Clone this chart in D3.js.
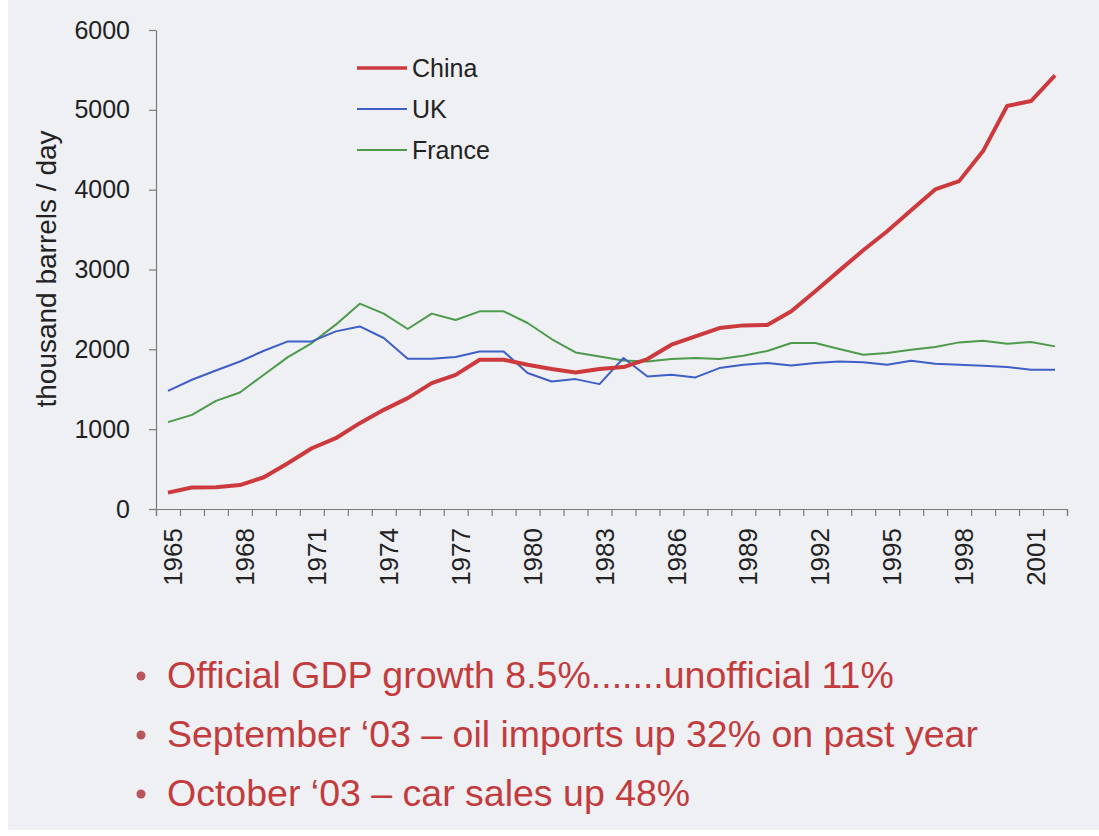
<!DOCTYPE html>
<html>
<head>
<meta charset="utf-8">
<script src="https://cdn.jsdelivr.net/npm/d3@7"></script>
<style>
  html, body { margin: 0; padding: 0; background: #ffffff; }
  svg { display: block; }
</style>
</head>
<body>
<svg id="chart" width="1099" height="836"></svg>
<script>
// Oil consumption, thousand barrels per day, 1965–2002
const years = d3.range(1965, 2003);
const china = [205, 270, 272, 300, 398, 573, 761, 887, 1075, 1242, 1389, 1577, 1680, 1870, 1870,
  1807, 1753, 1710, 1753, 1778, 1878, 2058, 2162, 2267, 2300, 2305, 2476, 2727, 2986, 3241,
  3479, 3743, 4003, 4107, 4483, 5048, 5110, 5433];
const uk = [1480, 1619, 1735, 1848, 1982, 2099, 2099, 2225, 2287, 2142, 1882, 1882, 1903, 1974, 1974,
  1703, 1597, 1627, 1564, 1891, 1660, 1681, 1648, 1765, 1807, 1828, 1798, 1828, 1848, 1838,
  1807, 1857, 1818, 1807, 1794, 1778, 1744, 1744];
const france = [1088, 1179, 1355, 1460, 1681, 1903, 2079, 2309, 2572, 2447, 2255, 2447, 2367, 2476, 2476,
  2330, 2129, 1961, 1911, 1861, 1848, 1878, 1891, 1878, 1920, 1980, 2079, 2079, 2004, 1932,
  1953, 1995, 2029, 2087, 2108, 2070, 2092, 2037];
const seriesNames = ["China", "UK", "France"];
const yTicks = [0, 1000, 2000, 3000, 4000, 5000, 6000];
const xLabelYears = d3.range(1965, 2002, 3);
const bullets = [
  "Official GDP growth 8.5%.......unofficial 11%",
  "September \u201803 \u2013 oil imports up 32% on past year",
  "October \u201803 \u2013 car sales up 48%"
];

const series = [
  { name: seriesNames[0], values: china, color: "#cc3a3e", width: 4 },
  { name: seriesNames[1], values: uk, color: "#3f5fc6", width: 2 },
  { name: seriesNames[2], values: france, color: "#4e9a4c", width: 2 }
];

const svg = d3.select("#chart");
const font = "'Liberation Sans', Arial, sans-serif";

// page background
svg.append("rect").attr("x", 8).attr("y", 0).attr("width", 1091).attr("height", 830).attr("fill", "#eff0f4");

const plotLeft = 156, plotRight = 1067, plotTop = 30, plotBottom = 509;

const x = d3.scaleBand().domain(years).range([plotLeft, plotRight]).paddingInner(0).paddingOuter(0);
const xEdge = d3.scaleLinear().domain([1964.5, 2002.5]).range([plotLeft, plotRight]);
const y = d3.scaleLinear().domain([0, 6000]).range([plotBottom, plotTop]);

// y axis
const yAxis = svg.append("g")
  .attr("transform", `translate(${plotLeft},0)`)
  .call(d3.axisLeft(y).tickValues(yTicks).tickFormat(d3.format("d"))
    .tickSize(7).tickPadding(19).tickSizeOuter(0));
yAxis.select(".domain").attr("stroke", "#7a7a7a").attr("stroke-width", 1.2);
yAxis.selectAll(".tick line").attr("stroke", "#7a7a7a").attr("stroke-width", 1.2);
yAxis.selectAll("text").attr("font-family", font).attr("font-size", 25).attr("fill", "#222");

// x axis: tick marks at category boundaries
const xAxis = svg.append("g")
  .attr("transform", `translate(0,${plotBottom})`)
  .call(d3.axisBottom(xEdge).tickValues(d3.range(1964.5, 2003, 1)).tickSize(7).tickFormat(""));
xAxis.select(".domain").attr("stroke", "#7a7a7a").attr("stroke-width", 1.2);
xAxis.selectAll(".tick line").attr("stroke", "#7a7a7a").attr("stroke-width", 1.2);

// x axis labels, rotated, every third year
const xLab = svg.append("g")
  .attr("transform", `translate(0,${plotBottom})`)
  .call(d3.axisBottom(x).tickValues(xLabelYears).tickSize(0).tickPadding(0));
xLab.select(".domain").remove();
xLab.selectAll("text")
  .attr("font-family", font).attr("font-size", 26).attr("fill", "#222")
  .attr("text-anchor", "end")
  .attr("transform", "rotate(-90)")
  .attr("x", -19).attr("y", 5).attr("dy", "0.35em");

// y axis title
svg.append("text")
  .attr("transform", "translate(56,269) rotate(-90)")
  .attr("text-anchor", "middle")
  .attr("font-family", font).attr("font-size", 28).attr("fill", "#222")
  .text("thousand barrels / day");

// series lines
const line = d3.line()
  .x((d, i) => x(years[i]) + x.bandwidth() / 2)
  .y(d => y(d));

series.slice().reverse().forEach(s => {
  svg.append("path")
    .datum(s.values)
    .attr("d", line)
    .attr("fill", "none")
    .attr("stroke", s.color)
    .attr("stroke-width", s.width)
    .attr("stroke-linejoin", "round");
});

// legend
const legend = svg.append("g").attr("transform", "translate(357,68)");
series.forEach((s, i) => {
  const g = legend.append("g").attr("transform", `translate(0,${i * 41})`);
  g.append("line").attr("x1", 0).attr("x2", 50).attr("y1", 0).attr("y2", 0)
    .attr("stroke", s.color).attr("stroke-width", s.width === 4 ? 3.5 : 2);
  g.append("text").attr("x", 55).attr("y", 0).attr("dy", "0.35em")
    .attr("font-family", font).attr("font-size", 25).attr("fill", "#222")
    .text(s.name);
});

// bullet notes
const notes = svg.append("g");
bullets.forEach((t, i) => {
  const by = 688 + i * 59;
  notes.append("circle").attr("cx", 141).attr("cy", by - 12).attr("r", 4.5).attr("fill", "#b8555a");
  notes.append("text").attr("x", 167).attr("y", by)
    .attr("font-family", font).attr("font-size", 37.5).attr("fill", "#c23c3e")
    .text(t);
});
</script>
</body>
</html>
